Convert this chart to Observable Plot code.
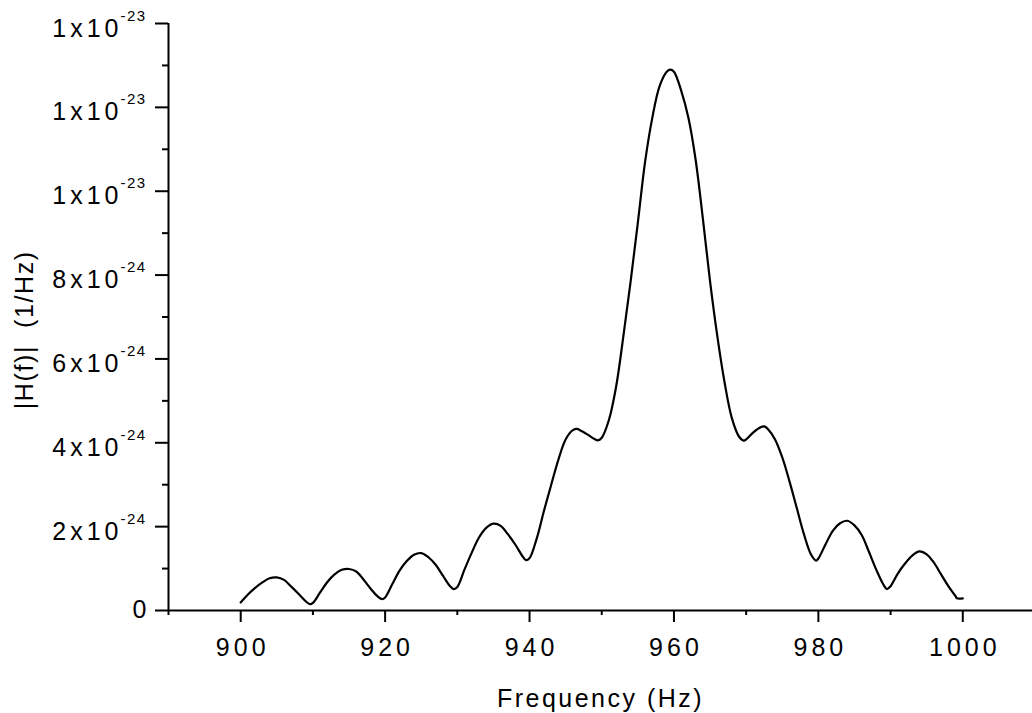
<!DOCTYPE html>
<html>
<head>
<meta charset="utf-8">
<script src="https://cdn.jsdelivr.net/npm/d3@7"></script>
<script src="https://cdn.jsdelivr.net/npm/@observablehq/plot@0.6"></script>
<style>
  html, body { margin: 0; padding: 0; background: #ffffff; }
  svg text { white-space: pre; }
</style>
</head>
<body>
<div id="chart"></div>
<script>
// ---- data, values in 1/Hz ----
const freq = [900, 901, 902, 903, 904, 905, 906, 907, 908, 909, 909.6, 910, 911, 912, 913, 914, 915, 916, 917, 918, 919, 919.6, 920,
  921, 922, 923, 924, 925, 926, 927, 928, 929, 929.5, 930, 931, 932, 933, 934, 935, 936, 937, 938, 939, 939.5, 940,
  941, 942, 943, 944, 945, 946, 946.6, 947, 948, 949, 949.5, 950, 951, 952, 953, 954, 955, 956, 957, 958, 959, 959.5, 960,
  961, 962, 963, 964, 965, 966, 967, 968, 969, 969.7, 970, 971, 972, 972.5, 973, 974, 975, 976, 977, 978, 979, 979.7, 980,
  981, 982, 983, 984, 985, 986, 987, 988, 989, 989.5, 990, 991, 992, 993, 994, 995, 996, 997, 998, 999, 999.2, 1000];
const magnitudeE24 = [0.19, 0.38, 0.54, 0.67, 0.77, 0.79, 0.73, 0.57, 0.40, 0.22, 0.15, 0.18, 0.43, 0.68, 0.86, 0.97, 0.99, 0.93, 0.74, 0.52, 0.33, 0.27, 0.31,
  0.63, 0.95, 1.18, 1.33, 1.37, 1.27, 1.09, 0.83, 0.58, 0.51, 0.56, 0.98, 1.38, 1.74, 1.97, 2.07, 2.02, 1.82, 1.58, 1.30, 1.20, 1.25,
  1.72, 2.38, 3.00, 3.60, 4.08, 4.30, 4.33, 4.30, 4.20, 4.09, 4.06, 4.12, 4.55, 5.35, 6.55, 7.85, 9.25, 10.7, 11.75, 12.5, 12.85, 12.9, 12.85,
  12.4, 11.75, 10.75, 9.35, 7.85, 6.55, 5.45, 4.60, 4.15, 4.05, 4.08, 4.25, 4.37, 4.39, 4.33, 4.08, 3.65, 3.08, 2.45, 1.82, 1.33, 1.19, 1.24,
  1.58, 1.90, 2.08, 2.14, 2.03, 1.80, 1.40, 0.98, 0.62, 0.51, 0.58, 0.88, 1.12, 1.31, 1.41, 1.34, 1.14, 0.86, 0.58, 0.34, 0.29, 0.29];

const xMajorTicks = [900, 920, 940, 960, 980, 1000];
const xMinorTicks = [890, 910, 930, 950, 970, 990];
const yMajorTicks = [0, 2e-24, 4e-24, 6e-24, 8e-24, 1e-23, 1.2e-23, 1.4e-23];
const yMinorTicks = [1e-24, 3e-24, 5e-24, 7e-24, 9e-24, 1.1e-23, 1.3e-23];
const yMantissa = ["0", "2x10", "4x10", "6x10", "8x10", "1x10", "1x10", "1x10"];
const yExponent = ["", "-24", "-24", "-24", "-24", "-23", "-23", "-23"];
const xTitle = "Frequency (Hz)";
const yTitle = "|H(f)|  (1/Hz)";

const data = freq.map((f, i) => ({f, v: magnitudeE24[i] * 1e-24}));
const yLabels = yMajorTicks.map((v, i) => ({v, m: yMantissa[i], e: yExponent[i]}));
const yExpLabels = yLabels.filter(d => d.e !== "");
const yZeroLabels = yLabels.filter(d => d.e === "");

const chart = Plot.plot({
  width: 1032,
  height: 713,
  marginLeft: 168,
  marginRight: 0,
  marginTop: 23,
  marginBottom: 103,
  x: {domain: [890, 1010], range: [168, 1034.5]},
  y: {domain: [0, 1.4e-23], range: [610, 23]},
  style: {fontFamily: "'Liberation Sans', Arial, sans-serif", fontSize: "25px", color: "#000", background: "#fff", letterSpacing: "4px"},
  marks: [
    Plot.axisX(xMajorTicks, {tickSize: 12, tickFormat: () => "", label: null, strokeWidth: 2}),
    Plot.axisX(xMinorTicks, {tickSize: 5, tickFormat: () => "", label: null, strokeWidth: 2}),
    Plot.axisY(yMajorTicks, {tickSize: 13, tickFormat: () => "", label: null, strokeWidth: 2}),
    Plot.axisY(yMinorTicks, {tickSize: 6, tickFormat: () => "", label: null, strokeWidth: 2}),
    Plot.ruleX([890], {y1: 0, y2: 1.4e-23, strokeWidth: 2}),
    Plot.ruleY([0], {strokeWidth: 2}),
    Plot.text(xMajorTicks, {x: d => d, frameAnchor: "bottom", lineAnchor: "top", dy: 28, dx: 2, text: d => String(d), fontSize: 25}),
    Plot.text(yExpLabels, {y: "v", text: "m", frameAnchor: "left", textAnchor: "end", lineAnchor: "bottom", dx: -46, dy: 13, fontSize: 25}),
    Plot.text(yExpLabels, {y: "v", text: "e", frameAnchor: "left", textAnchor: "start", lineAnchor: "bottom", dx: -48, dy: -3, fontSize: 15}),
    Plot.text(yZeroLabels, {y: "v", text: "m", frameAnchor: "left", textAnchor: "end", lineAnchor: "bottom", dx: -18, dy: 7, fontSize: 25}),
    Plot.text([xTitle], {frameAnchor: "bottom", lineAnchor: "bottom", dy: 96, text: d => d, fontSize: 25}),
    Plot.text([yTitle], {y: [4.8e-24], frameAnchor: "left", rotate: -90, dx: -144, text: d => d, fontSize: 25}),
    Plot.line(data, {x: "f", y: "v", curve: "catmull-rom", stroke: "#000", strokeWidth: 2.2})
  ]
});
document.getElementById("chart").appendChild(chart);
const svgSel = d3.select(chart);
svgSel.selectAll("text").filter(function() { return this.textContent === xTitle; }).style("letter-spacing", "2.5px");
svgSel.selectAll("text").filter(function() { return this.textContent === yTitle; }).style("letter-spacing", "1.6px");
svgSel.selectAll("text").filter(function() { return yExponent.includes(this.textContent) && this.textContent !== ""; }).style("letter-spacing", "1.5px");
</script>
</body>
</html>
